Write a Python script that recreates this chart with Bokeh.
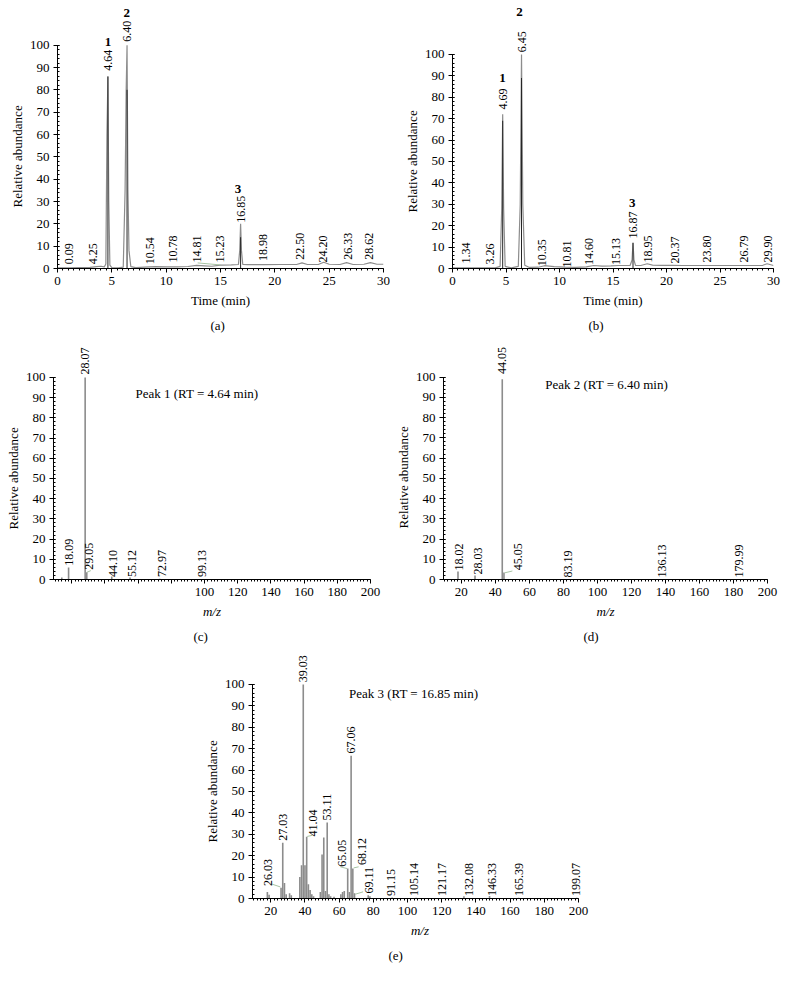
from bokeh.plotting import figure
from bokeh.layouts import column, row
from bokeh.models import (Range1d, SingleIntervalTicker, LabelSet, ColumnDataSource,
                          Title, Label)
from bokeh.embed import file_html
from bokeh.resources import INLINE

FONT = "Liberation Serif"

# ---------------- data ----------------
# (a) chromatogram
a_time = [0.0, 1.0, 2.0, 3.0, 3.6, 4.0, 4.3, 4.45, 4.55, 4.64, 4.72, 4.82, 5.0, 5.6, 6.05, 6.22, 6.32,
          6.40, 6.48, 6.58, 6.75, 7.2, 8.0, 9.0, 10.0, 11.0, 12.0, 12.8, 13.5, 14.2, 15.0, 16.0, 16.65,
          16.77, 16.85, 16.93, 17.05, 17.5, 19.0, 20.5, 22.0, 22.5, 23.0, 24.0, 24.5, 25.0, 26.0, 26.6,
          27.2, 28.2, 28.8, 29.4, 30.0]
a_abund = [0.3, 0.3, 0.4, 0.5, 0.8, 1.0, 0.7, 2.0, 60, 86, 30, 1.5, 0.4, 0.3, 0.6, 35, 80,
           100, 35, 8, 0.8, 0.4, 0.6, 0.8, 0.7, 0.7, 0.9, 1.4, 1.2, 1.0, 1.5, 1.6, 1.8,
           8, 20, 8, 1.8, 1.7, 1.7, 1.8, 1.8, 2.5, 1.8, 1.8, 2.8, 1.9, 1.8, 2.6,
           1.8, 1.9, 2.6, 1.9, 1.9]
a_core_time = [4.64, 6.40, 16.85]
a_core_top = [86, 80, 14]
a_label_text = ["0.09", "4.25", "4.64", "6.40", "10.54", "10.78", "14.81", "15.23", "16.85",
                "18.98", "22.50", "24.20", "26.33", "28.62"]
a_label_x = [1.1, 3.3, 4.64, 6.40, 8.5, 10.6, 12.8, 15.0, 16.85, 18.9, 22.3, 24.4, 26.7, 28.7]
a_label_y = [1.9, 1.9, 88.5, 101.5, 1.9, 2.7, 2.7, 2.7, 20.5, 3.4, 3.9, 2.7, 3.9, 3.9]
a_peak_no = ["1", "2", "3"]
a_peak_no_x = [4.64, 6.37, 16.6]
a_peak_no_y = [101.5, 114.5, 35.5]
a_link = [(12.9, 2.5, 15.0, 1.6)]

# (b) chromatogram
b_time = [0.0, 2.0, 4.0, 4.45, 4.6, 4.69, 4.78, 4.92, 5.5, 6.15, 6.33, 6.45, 6.57, 6.75, 7.2, 8.0,
          8.6, 9.5, 10.5, 11.5, 12.5, 13.2, 14.0, 14.8, 15.5, 16.6, 16.78, 16.87, 16.96, 17.1, 17.6,
          18.2, 18.7, 19.5, 20.5, 21.5, 23.0, 25.0, 27.0, 29.0, 29.4, 30.0]
b_abund = [0.3, 0.3, 0.3, 1.0, 28, 72, 28, 1.0, 0.3, 1.0, 30, 100, 30, 1.5, 0.5, 0.6,
           1.3, 0.9, 0.6, 0.5, 0.8, 1.4, 1.1, 1.2, 1.4, 1.4, 4, 12, 4, 1.5, 1.4,
           2.2, 1.6, 1.5, 1.5, 1.4, 1.4, 1.4, 1.4, 1.5, 2.2, 1.4]
b_core_time = [4.69, 6.45, 16.87]
b_core_top = [69, 89, 12]
b_label_text = ["1.34", "3.26", "4.69", "6.45", "10.35", "10.81", "14.60", "15.13", "16.87",
                "18.95", "20.37", "23.80", "26.79", "29.90"]
b_label_x = [1.3, 3.46, 4.69, 6.45, 8.4, 10.7, 12.8, 15.3, 16.87, 18.3, 20.8, 23.8, 27.2, 29.5]
b_label_y = [2.3, 1.9, 74.3, 101.0, 1.1, 0.5, 1.6, 1.6, 14, 2.8, 2.3, 2.8, 2.8, 2.8]
b_peak_no = ["1", "2", "3"]
b_peak_no_x = [4.67, 6.26, 16.8]
b_peak_no_y = [88.8, 119.6, 30.8]

# (c) mass spectrum, peak 1
c_mz = [14.0, 18.09, 28.07, 29.05, 44.10, 55.12, 72.97, 99.13]
c_ab = [1.0, 6.0, 100, 3.6, 1.5, 1.0, 0.4, 0.3]
c_label_text = ["18.09", "28.07", "29.05", "44.10", "55.12", "72.97", "99.13"]
c_label_x = [18.09, 28.07, 30.5, 45.1, 56.4, 74.1, 98.6]
c_label_y = [6.8, 101.5, 4.8, 1.3, 1.3, 1.3, 1.3]
c_link = [(29.2, 3.6, 31.5, 4.4)]
c_title = "Peak 1 (RT = 4.64 min)"
c_title_pos = (58.4, 92.2)

# (d) mass spectrum, peak 2
d_mz = [18.02, 28.03, 44.05, 45.05, 83.19, 136.13, 179.99]
d_ab = [4.0, 2.0, 99, 3.5, 0.3, 0.3, 0.3]
d_label_text = ["18.02", "28.03", "44.05", "45.05", "83.19", "136.13", "179.99"]
d_label_x = [18.5, 29.5, 44.05, 53.5, 82.5, 138.0, 183.0]
d_label_y = [4.5, 2.5, 101.5, 4.6, 1.0, 1.0, 1.0]
d_link = [(45.5, 3.3, 50.0, 4.2)]
d_title = "Peak 2 (RT = 6.40 min)"
d_title_pos = (69.3, 96.5)

# (e) mass spectrum, peak 3
e_mz = [18, 19, 26, 27, 28, 29, 31, 32, 37, 38, 39, 40, 41, 42, 43, 44, 45, 49, 50, 51, 52, 53, 54,
        55, 57, 61, 62, 63, 65, 66, 67, 68, 69, 77, 78, 91, 105, 133, 148, 165, 199]
e_ab = [3.0, 1.8, 5.0, 26, 7.2, 2.0, 2.5, 1.5, 10, 15.5, 100, 15.5, 28.8, 6.7, 4.0, 2.0, 1.0, 3.0,
        20.6, 28.5, 3.5, 35.5, 2.0, 1.0, 0.8, 2.0, 3.0, 3.5, 14.0, 3.0, 66.7, 14.0, 2.5, 1.5, 1.0,
        0.5, 0.3, 1.0, 1.2, 0.3, 0.3]
e_label_text = ["26.03", "27.03", "39.03", "41.04", "53.11", "65.05", "67.06", "68.12", "69.11",
                "91.15", "105.14", "121.17", "132.08", "146.33", "165.39", "199.07"]
e_label_x = [18.6, 27, 39, 44.9, 53, 61.9, 67, 73.6, 77.5, 90.2, 103.8, 120, 136, 149.7, 165.3, 198.5]
e_label_y = [5.8, 27, 101, 29, 36.5, 14.8, 67.8, 15.6, 2.3, 1.2, 1.2, 1.2, 1.2, 1.2, 1.2, 1.2]
e_link = [(20.8, 6.7, 25.6, 5.4), (41.3, 29.0, 44.3, 29.5), (60.7, 14.8, 64.6, 14.0),
          (68.5, 14.3, 71.4, 14.8), (69.4, 2.0, 74.0, 3.1)]
e_title = "Peak 3 (RT = 16.85 min)"
e_title_pos = (65.7, 95.8)

TRACE = "#8c8c8c"
CORE = "#262626"
LINK = "#a8c4a4"


def style(p, xlabel, xint, xminor, ylab_offset, xbounds, italic=False):
    p.outline_line_color = None
    p.grid.visible = False
    p.xaxis.ticker = SingleIntervalTicker(interval=xint, num_minor_ticks=xminor)
    p.yaxis.ticker = SingleIntervalTicker(interval=10, num_minor_ticks=5)
    p.yaxis.bounds = (0, 100)
    p.xaxis.bounds = xbounds
    for ax in (p.xaxis[0], p.yaxis[0]):
        ax.axis_line_color = "black"
        ax.major_tick_line_color = "black"
        ax.minor_tick_line_color = "black"
        ax.major_label_text_font = FONT
        ax.major_label_text_font_size = "13px"
        ax.major_label_text_color = "black"
        ax.major_label_standoff = 4
        ax.axis_label_text_font = FONT
        ax.axis_label_text_font_size = "13px"
        ax.axis_label_text_color = "black"
        ax.axis_label_text_font_style = "normal"
        ax.axis_label_standoff = 5
    xa, ya = p.xaxis[0], p.yaxis[0]
    xa.major_tick_in, xa.major_tick_out = 0, 4
    xa.minor_tick_in, xa.minor_tick_out = 0, 2
    ya.major_tick_in, ya.major_tick_out = 2, 4
    ya.minor_tick_in, ya.minor_tick_out = 2, 0
    p.xaxis.axis_label = xlabel
    if italic:
        p.xaxis.axis_label_text_font_style = "italic"
    p.add_layout(Title(text="Relative abundance", align="left", offset=ylab_offset, standoff=4,
                       text_font=FONT, text_font_size="13px", text_font_style="normal",
                       text_color="black"), "left")


def labels(p, xs, ys, texts, bold=False, rotated=True):
    src = ColumnDataSource(dict(x=xs, y=ys, t=texts))
    ls = LabelSet(x="x", y="y", text="t", source=src,
                  angle=90 if rotated else 0, angle_units="deg",
                  text_align="left" if rotated else "center",
                  text_baseline="middle",
                  text_font=FONT, text_font_size="13px" if bold else "12px",
                  text_font_style="bold" if bold else "normal",
                  text_color="black")
    p.add_layout(ls)


def links(p, segs):
    p.segment(x0=[s[0] for s in segs], y0=[s[1] for s in segs],
              x1=[s[2] for s in segs], y1=[s[3] for s in segs],
              line_color=LINK, line_width=1)


def panel_tag(p, text, offset):
    p.add_layout(Title(text=text, align="left", offset=offset, standoff=10, text_font=FONT,
                       text_font_size="13px", text_font_style="normal",
                       text_color="black"), "below")


def chrom(width, height, bl, br, bb, ytop, t, ab, ct, cy, lx, ly, lt, nx, ny, nt, tag, tag_off,
          ylab_off, link=None):
    p = figure(width=width, height=height, x_range=Range1d(0, 30), y_range=Range1d(0, ytop),
               output_backend="svg", toolbar_location=None,
               min_border_left=bl, min_border_right=br, min_border_top=0, min_border_bottom=bb)
    style(p, "Time (min)", 5, 10, ylab_off, (0, 30))
    p.line(t, ab, line_color=TRACE, line_width=1.2)
    p.segment(x0=ct, y0=[0] * len(ct), x1=ct, y1=cy, line_color=CORE, line_width=1)
    if link:
        links(p, link)
    labels(p, lx, ly, lt)
    labels(p, nx, ny, nt, bold=True, rotated=False)
    panel_tag(p, tag, tag_off)
    return p


def spec(width, height, bl, br, bb, ytop, xstart, xend, mz, ab, lx, ly, lt, link, title, tpos, tag,
         tag_off, ylab_off, hide=None):
    p = figure(width=width, height=height, x_range=Range1d(xstart, xend), y_range=Range1d(0, ytop),
               output_backend="svg", toolbar_location=None,
               min_border_left=bl, min_border_right=br, min_border_top=0, min_border_bottom=bb)
    style(p, "m/z", 20, 10, ylab_off, (xstart, 200), italic=True)
    if hide:
        p.xaxis.major_label_overrides = {v: "" for v in hide}
    p.segment(x0=mz, y0=[0] * len(mz), x1=mz, y1=ab, line_color=TRACE, line_width=1.6)
    links(p, link)
    labels(p, lx, ly, lt)
    p.add_layout(Label(x=tpos[0], y=tpos[1], text=title, text_font=FONT, text_font_size="13px",
                       text_baseline="middle", text_align="left", text_color="black"))
    panel_tag(p, tag, tag_off)
    return p


pa = chrom(390, 340, 57, 7, 70, 120.0, a_time, a_abund, a_core_time, a_core_top,
           a_label_x, a_label_y, a_label_text, a_peak_no_x, a_peak_no_y, a_peak_no, "(a)", 153, 61,
           a_link)
pb = chrom(391, 340, 62, 8, 72, 125.2, b_time, b_abund, b_core_time, b_core_top,
           b_label_x, b_label_y, b_label_text, b_peak_no_x, b_peak_no_y, b_peak_no, "(b)", 136, 56)
pc = spec(390, 308, 53, 20, 69, 118.3, 9, 200, c_mz, c_ab, c_label_x, c_label_y, c_label_text, c_link,
          c_title, c_title_pos, "(c)", 140, 50, hide=[20, 40, 60, 80])
pd = spec(391, 308, 53, 14, 67, 118.1, 9.5, 200, d_mz, d_ab, d_label_x, d_label_y, d_label_text,
          d_link, d_title, d_title_pos, "(d)", 140, 51)
pe = spec(600, 327, 252, 13, 77, 116.8, 9.3, 205.3, e_mz, e_ab, e_label_x, e_label_y, e_label_text,
          e_link, e_title, e_title_pos, "(e)", 136, 56)

layout = column(row(pa, pb), row(pc, pd), pe)
open("out.html", "w").write(file_html(layout, INLINE))
